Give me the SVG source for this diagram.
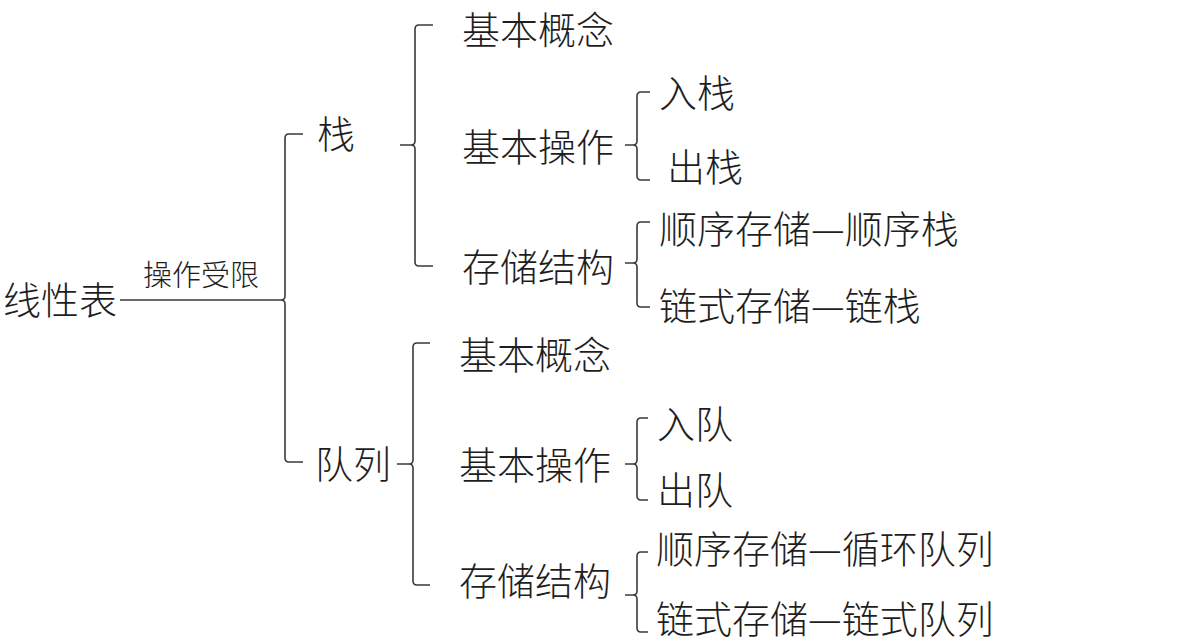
<svg xmlns="http://www.w3.org/2000/svg" width="1182" height="644" viewBox="0 0 1182 644">
<style>
text{font-family:"Noto Sans CJK SC","Noto Sans",sans-serif;fill:#1e1e1e;font-weight:300}
.b{font-size:38px}
.s{font-size:29px}
.c path,.c line{fill:none;stroke:#3a3a3a;stroke-width:1.6}
</style>
<rect width="1182" height="644" fill="#ffffff"/>
<g class="c" id="connectors">
<line x1="120" y1="300" x2="281" y2="300"/>
<path d="M303,134 H289 Q285,134 285,138 V296 Q285,300 281,300 Q285,300 285,304 V458 Q285,462 289,462 H303"/>
<path d="M433,25 H419 Q415,25 415,29 V141 Q415,145 411,145 H400 M411,145 Q415,145 415,149 V262 Q415,266 419,266 H433"/>
<path d="M650,92 H641 Q637,92 637,96 V141 Q637,145 633,145 H625 M633,145 Q637,145 637,149 V176 Q637,180 641,180 H650"/>
<path d="M650,222 H641 Q637,222 637,226 V259 Q637,263 633,263 H625 M633,263 Q637,263 637,267 V303 Q637,307 641,307 H650"/>
<path d="M430,343 H417 Q413,343 413,347 V460 Q413,464 409,464 H397 M409,464 Q413,464 413,468 V581 Q413,585 417,585 H430"/>
<path d="M648,418 H641 Q637,418 637,422 V460 Q637,464 633,464 H625 M633,464 Q637,464 637,468 V496 Q637,500 641,500 H648"/>
<path d="M648,552 H641 Q637,552 637,556 V591 Q637,595 633,595 H625 M633,595 Q637,595 637,599 V628 Q637,632 641,632 H648"/>
</g>
<g id="n-root"><text class="b" x="3" y="314">线性表</text></g>
<g id="n-label"><text class="s" x="143" y="286">操作受限</text></g>
<g id="n-stack"><text class="b" x="317" y="148">栈</text></g>
<g id="n-queue"><text class="b" x="315" y="478">队列</text></g>
<g id="n-s-concept"><text class="b" x="462" y="44">基本概念</text></g>
<g id="n-s-op"><text class="b" x="462" y="161">基本操作</text></g>
<g id="n-s-store"><text class="b" x="462" y="281">存储结构</text></g>
<g id="n-s-push"><text class="b" x="659" y="107">入栈</text></g>
<g id="n-s-pop"><text class="b" x="667" y="181">出栈</text></g>
<g id="n-s-seq"><text class="b" x="659" y="243">顺序存储—顺序栈</text></g>
<g id="n-s-link"><text class="b" x="659" y="320">链式存储—链栈</text></g>
<g id="n-q-concept"><text class="b" x="459" y="369">基本概念</text></g>
<g id="n-q-op"><text class="b" x="459" y="479">基本操作</text></g>
<g id="n-q-store"><text class="b" x="459" y="595">存储结构</text></g>
<g id="n-q-in"><text class="b" x="657" y="438">入队</text></g>
<g id="n-q-out"><text class="b" x="657" y="504">出队</text></g>
<g id="n-q-seq"><text class="b" x="656" y="563">顺序存储—循环队列</text></g>
<g id="n-q-link"><text class="b" x="656" y="633">链式存储—链式队列</text></g>
</svg>
